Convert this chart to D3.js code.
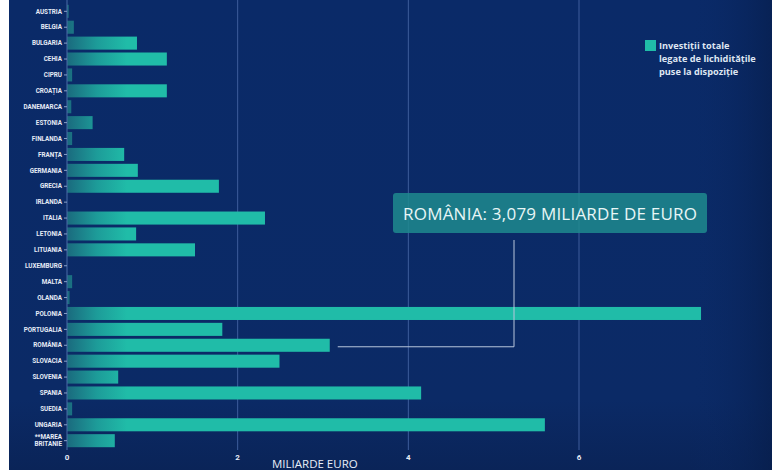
<!DOCTYPE html>
<html><head><meta charset="utf-8">
<script src="https://cdn.jsdelivr.net/npm/d3@7"></script>
<style>
html,body{margin:0;padding:0;background:#fff;}
svg{display:block;}
</style></head>
<body><svg id="c" width="780" height="470"></svg>
<script>
const categories = ["AUSTRIA","BELGIA","BULGARIA","CEHIA","CIPRU","CROAȚIA","DANEMARCA","ESTONIA","FINLANDA","FRANȚA","GERMANIA","GRECIA","IRLANDA","ITALIA","LETONIA","LITUANIA","LUXEMBURG","MALTA","OLANDA","POLONIA","PORTUGALIA","ROMÂNIA","SLOVACIA","SLOVENIA","SPANIA","SUEDIA","UNGARIA","**MAREA BRITANIE"];
const values = [0.02,0.08,0.82,1.17,0.06,1.17,0.05,0.30,0.06,0.67,0.83,1.78,0,2.32,0.81,1.50,0,0.06,0.03,7.43,1.82,3.079,2.49,0.60,4.15,0.06,5.60,0.56];
const xTicks = [0,2,4,6];
const legendLines = ["Investiții totale","legate de lichiditățile","puse la dispoziție"];
const axisTitle = "MILIARDE EURO";
const calloutText = "ROMÂNIA: 3,079 MILIARDE DE EURO";
const calloutCat = "ROMÂNIA";

const svg = d3.select("#c");
const defs = svg.append("defs");
const bg = defs.append("linearGradient").attr("id","bg").attr("x1",0).attr("y1",0).attr("x2",0).attr("y2",1);
bg.append("stop").attr("offset","0").attr("stop-color","#0a2a68");
bg.append("stop").attr("offset","0.85").attr("stop-color","#0b2a66");
bg.append("stop").attr("offset","1").attr("stop-color","#0a2458");
const bg2 = defs.append("linearGradient").attr("id","bgr").attr("x1",0).attr("y1",0).attr("x2",1).attr("y2",0);
bg2.append("stop").attr("offset","0").attr("stop-color","#0a2a68").attr("stop-opacity",0);
bg2.append("stop").attr("offset","1").attr("stop-color","#061c48").attr("stop-opacity",0.6);

svg.append("rect").attr("x",9).attr("y",0).attr("width",763).attr("height",470).attr("fill","url(#bg)");
svg.append("rect").attr("x",690).attr("y",0).attr("width",82).attr("height",470).attr("fill","url(#bgr)");

const x = d3.scaleLinear().domain([0,6]).range([67,579]);
const y = d3.scaleBand().domain(categories).range([4,448]).paddingInner(0.18).paddingOuter(0.05);

const g = defs.append("linearGradient").attr("id","bar").attr("gradientUnits","userSpaceOnUse")
  .attr("x1",x(0)).attr("x2",x(0)+60).attr("y1",0).attr("y2",0);
g.append("stop").attr("offset","0").attr("stop-color","#1a6a7e");
g.append("stop").attr("offset","0.5").attr("stop-color","#1d9c99");
g.append("stop").attr("offset","1").attr("stop-color","#20bca8");

// grid
svg.append("g").selectAll("line").data(xTicks.filter(d=>d>0)).join("line")
  .attr("x1",d=>x(d)).attr("x2",d=>x(d)).attr("y1",0).attr("y2",450)
  .attr("stroke","#3e5d9c").attr("stroke-width",1);

// bars
svg.append("g").selectAll("rect").data(categories).join("rect")
  .attr("x",x(0)).attr("y",d=>y(d))
  .attr("width",(d,i)=>Math.max(0,x(values[i])-x(0)))
  .attr("height",y.bandwidth())
  .attr("fill","url(#bar)");

// y axis
const ya = svg.append("g").attr("transform",`translate(${x(0)},0)`)
  .call(d3.axisLeft(y).tickSize(3).tickSizeOuter(0).tickFormat(""));
ya.select(".domain").attr("stroke","#4a6aa8").attr("d","M0,0V450");
ya.selectAll(".tick line").attr("stroke","#8aa0c8");
ya.selectAll(".tick").each(function(d){
  const t = d3.select(this).append("text").attr("x",-5).attr("text-anchor","end")
    .attr("fill","#e6ecf6").attr("font-family","'Liberation Sans Narrow','Roboto','Liberation Sans',sans-serif")
    .attr("font-weight","bold").attr("font-size","6.3px");
  if(d.startsWith("**")){
    t.append("tspan").attr("x",-5).attr("dy","-0.2em").text("**MAREA");
    t.append("tspan").attr("x",-5).attr("dy","1.05em").text("BRITANIE");
  } else t.attr("dy","0.35em").text(d);
});

// x tick labels
svg.append("g").selectAll("text").data(xTicks).join("text")
  .attr("x",d=>x(d)).attr("y",460).attr("text-anchor","middle")
  .attr("fill","#e6ecf6").attr("font-family","Roboto,sans-serif").attr("font-weight","bold")
  .attr("font-size","8px").text(d=>d);

svg.append("text").attr("x",272).attr("y",468).attr("fill","#e8eef8")
  .attr("font-family","'Open Sans',sans-serif").attr("font-size","11.5px").text(axisTitle);

// legend
svg.append("rect").attr("x",645).attr("y",40).attr("width",11).attr("height",11).attr("fill","#20bca8");
svg.append("g").selectAll("text").data(legendLines).join("text")
  .attr("x",659).attr("y",(d,i)=>49+i*13).attr("fill","#dfe6f2")
  .attr("font-family","'Open Sans',sans-serif").attr("font-weight","bold").attr("font-size","9.2px").text(d=>d);

// callout
const ci = categories.indexOf(calloutCat);
const cy = y(calloutCat)+y.bandwidth()/2;
svg.append("path")
  .attr("d",`M${x(values[ci])+8},${cy+1.5}H514V240`)
  .attr("fill","none").attr("stroke","#b9c6dc").attr("stroke-width",1);
svg.append("rect").attr("x",393).attr("y",193).attr("width",314).attr("height",40).attr("rx",3)
  .attr("fill","#1f8a8e").attr("fill-opacity",0.85);
svg.append("text").attr("x",550).attr("y",220).attr("text-anchor","middle").attr("fill","#e8f6f6")
  .attr("font-family","'Open Sans',sans-serif").attr("font-size","17px").attr("textLength",294)
  .text(calloutText);
</script></body></html>
